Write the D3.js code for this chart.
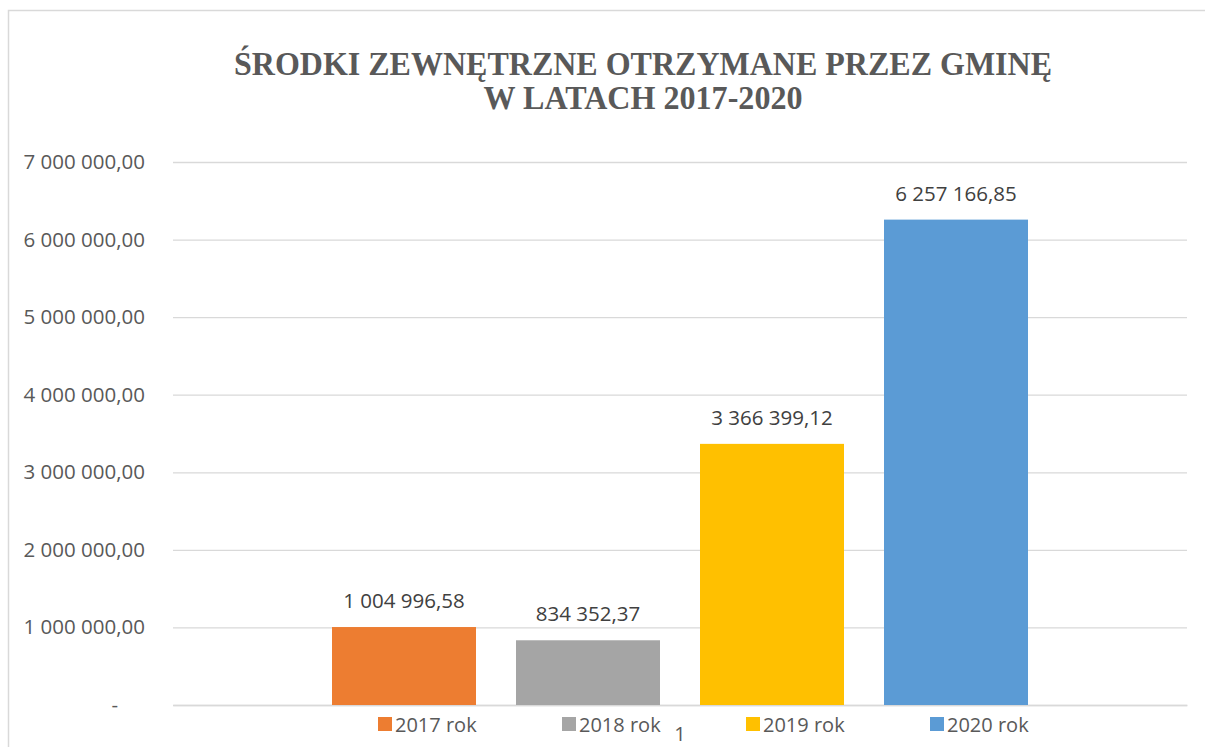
<!DOCTYPE html>
<html>
<head>
<meta charset="utf-8">
<script src="https://cdn.jsdelivr.net/npm/d3@7"></script>
<style>
  body { margin: 0; background: #fff; }
  svg { display: block; }
</style>
</head>
<body>
<div id="chart"></div>
<script>
// chart data
const categories = ["1"]
const seriesNames = ["2017 rok", "2018 rok", "2019 rok", "2020 rok"]
const seriesValues = [1004996.58, 834352.37, 3366399.12, 6257166.85]
const seriesColors = ["#ED7D31", "#A5A5A5", "#FFC000", "#5B9BD5"]
const yTicks = [0, 1000000, 2000000, 3000000, 4000000, 5000000, 6000000, 7000000]
const titleLines = ["ŚRODKI ZEWNĘTRZNE OTRZYMANE PRZEZ GMINĘ", "W LATACH 2017-2020"]

const width = 1205, height = 747
const plot = { left: 173, right: 1187, top: 162, bottom: 705 }

const svg = d3.select("#chart").append("svg")
    .attr("width", width)
    .attr("height", height)

// outer chart border
svg.append("path")
    .attr("d", "M8.5," + height + " V10.5 H" + width)
    .attr("fill", "none")
    .attr("stroke", "#d9d9d9")
    .attr("stroke-width", 1.5)

// title
svg.append("g").selectAll("text")
    .data(titleLines)
    .join("text")
    .attr("x", 643)
    .attr("y", (d, i) => 75 + i * 34)
    .attr("text-anchor", "middle")
    .attr("font-family", "'Liberation Serif', serif")
    .attr("font-weight", "bold")
    .attr("font-size", 33)
    .attr("fill", "#595959")
    .attr("textLength", (d, i) => i == 0 ? 818 : 319)
    .attr("lengthAdjust", "spacingAndGlyphs")
    .text(d => d)

const yScale = d3.scaleLinear().domain([0, 7000000]).range([plot.bottom, plot.top])
const xScale = d3.scaleBand().domain(categories).range([plot.left, plot.right]).paddingInner(0).paddingOuter(0)
// bars inside the category
const barWidth = 144, barGap = 40
const groupWidth = barWidth * seriesNames.length + barGap * (seriesNames.length - 1)
const xSeries = d3.scaleBand()
    .domain(seriesNames)
    .range([0, groupWidth])
    .paddingInner(barGap / (barWidth + barGap))
    .paddingOuter(0)
const groupOffset = xScale(categories[0]) + (xScale.bandwidth() - groupWidth) / 2

function fmt(v) {
    if (v === 0) return "-"
    const parts = v.toFixed(2).split(".")
    return parts[0].replace(/\B(?=(\d{3})+(?!\d))/g, " ") + "," + parts[1]
}

// gridlines
const yAxis = d3.axisLeft(yScale)
    .tickValues(yTicks)
    .tickSize(-(plot.right - plot.left))
    .tickPadding(28)
    .tickFormat(fmt)

const gy = svg.append("g")
    .attr("transform", "translate(" + plot.left + ",0)")
    .call(yAxis)
gy.select(".domain").remove()
gy.selectAll(".tick line").attr("stroke", "#d9d9d9").attr("stroke-width", 1.3)
gy.selectAll(".tick text")
    .attr("font-family", "'Open Sans', sans-serif")
    .attr("font-size", 20.5)
    .attr("fill", "#595959")
gy.selectAll(".tick text").filter(d => d === 0).attr("dx", -27)

// category axis
const gx = svg.append("g")
    .attr("transform", "translate(0," + plot.bottom + ")")
    .call(d3.axisBottom(xScale).tickSize(0).tickPadding(22))
gx.select(".domain").attr("stroke", "#d9d9d9").attr("stroke-width", 1.3)
gx.selectAll(".tick text")
    .attr("font-family", "'Open Sans', sans-serif")
    .attr("font-size", 20)
    .attr("fill", "#595959")

// bars
const g = svg.append("g")
    .attr("transform", "translate(" + groupOffset + ",0)")

g.selectAll("rect")
    .data(seriesValues)
    .join("rect")
    .attr("x", (d, i) => xSeries(seriesNames[i]))
    .attr("y", d => yScale(d))
    .attr("width", xSeries.bandwidth())
    .attr("height", d => yScale(0) - yScale(d))
    .attr("fill", (d, i) => seriesColors[i])

g.selectAll("text.label")
    .data(seriesValues)
    .join("text")
    .attr("class", "label")
    .attr("x", (d, i) => xSeries(seriesNames[i]) + xSeries.bandwidth() / 2)
    .attr("y", d => yScale(d) - 19)
    .attr("text-anchor", "middle")
    .attr("font-family", "'Open Sans', sans-serif")
    .attr("font-size", 20.5)
    .attr("fill", "#404040")
    .text(fmt)

// legend
const legend = svg.append("g")
    .attr("transform", "translate(" + groupOffset + ",724)")

const items = legend.selectAll("g")
    .data(seriesNames)
    .join("g")
    .attr("transform", (d, i) => "translate(" + (xSeries(d) + 46) + ",0)")

items.append("rect")
    .attr("x", 0)
    .attr("y", -7)
    .attr("width", 14)
    .attr("height", 14)
    .attr("fill", (d, i) => seriesColors[i])

items.append("text")
    .attr("x", 17)
    .attr("y", 8)
    .attr("font-family", "'Open Sans', sans-serif")
    .attr("font-size", 20)
    .attr("fill", "#595959")
    .text(d => d)
</script>
</body>
</html>
